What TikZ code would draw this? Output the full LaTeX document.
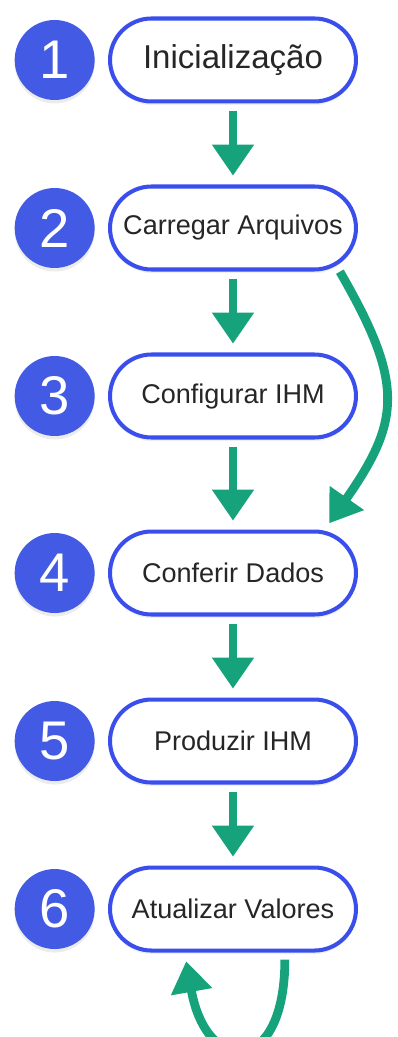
\documentclass[tikz,border=0pt]{standalone}
\usepackage{fontspec}
\setmainfont{Liberation Sans}
\usetikzlibrary{positioning, shapes.misc, arrows.meta, shadows}
\definecolor{pillblue}{RGB}{58,78,236}
\definecolor{dotblue}{RGB}{66,90,228}
\definecolor{flowgreen}{RGB}{22,163,124}

\begin{document}
\begin{tikzpicture}[x = 0.02cm, y = 0.02cm, node distance = 1.62cm,
  stage/.style={rounded rectangle, draw = pillblue, line width = 2.3pt, fill = white, minimum width = 4.92cm, minimum height = 1.66cm, inner sep = 0pt, text = black!85, font = \fontsize{15.4}{18}\selectfont, drop shadow = {opacity = 0.12, shadow xshift = 0pt, shadow yshift = -2pt}},
  num/.style={circle, fill = dotblue, minimum size = 1.6cm, inner sep = 0pt, text = white, font = \fontsize{31}{34}\selectfont, drop shadow = {opacity = 0.15, shadow xshift = 0pt, shadow yshift = -2pt}},
  flow/.style={flowgreen, line width = 5pt, -{Triangle[width = 0.8cm, length = 0.62cm]}, shorten <= 4pt, shorten >= 5pt}]
  \useasboundingbox (0,0) rectangle (397,1037);

  % nodes
  \node [stage, font = \fontsize{18.8}{22}\selectfont] (init) at (233,977) {Inicialização};
  \node [stage][below = of init] (load) {Carregar Arquivos};
  \node [stage][below = of load] (config) {Configurar IHM};
  \node [stage][below = 1.8cm of config] (check) {Conferir Dados};
  \node [stage][below = of check] (produce) {Produzir IHM};
  \node [stage][below = of produce] (update) {Atualizar Valores};

  \node [num][left = 0.26cm of init] (n1) {1};
  \node [num][left = 0.26cm of load] (n2) {2};
  \node [num][left = 0.26cm of config] (n3) {3};
  \node [num][left = 0.26cm of check] (n4) {4};
  \node [num][left = 0.26cm of produce] (n5) {5};
  \node [num][left = 0.26cm of update] (n6) {6};

  % edges
  \draw [flow] (init.south) -- (load.north);
  \draw [flow] (load.south) -- (config.north);
  \draw [flow] (config.south) -- (check.north);
  \draw [flow] (check.south) -- (produce.north);
  \draw [flow] (produce.south) -- (update.north);
  \draw [flow] (load.-20) to [out = -60, in = 55, looseness = 1.3] (check.25);
  \draw [flow] (update.-40) to [out = -90, in = -80, looseness = 3.2] (update.-138);
\end{tikzpicture}
\end{document}
